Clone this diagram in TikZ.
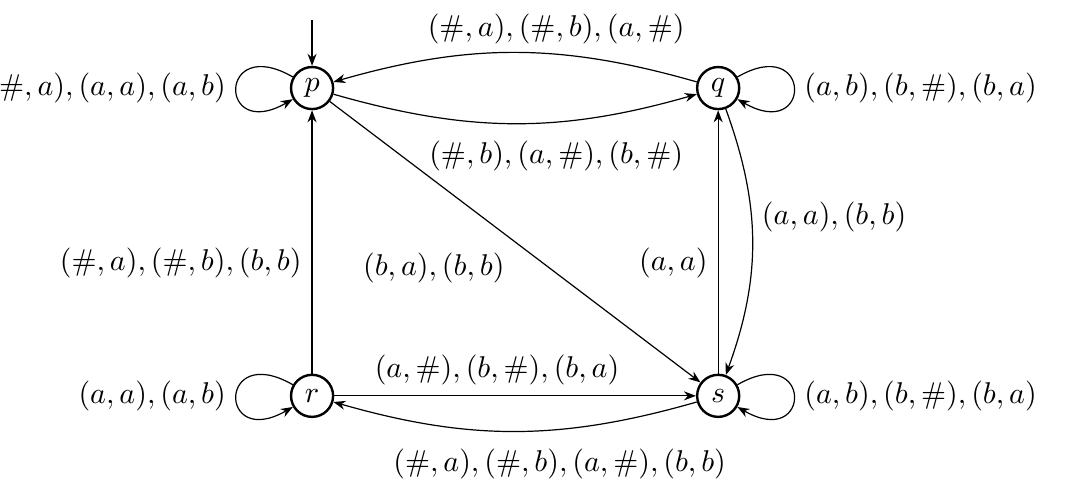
\documentclass[tikz,border=0pt]{standalone}
\usetikzlibrary{arrows.meta}

\begin{document}
\begin{tikzpicture}[>={Stealth[length=4pt,width=3pt]},
    state/.style={circle, draw, thick, minimum size=14pt, inner sep=0pt},
    selfloop/.style={looseness=10}]
  \useasboundingbox (-3.65,-1.006) rectangle (8.83,4.63);
  \node[state] (p) at (0,3.6) {$p$};
  \node[state] (q) at (4.75,3.6) {$q$};
  \node[state] (r) at (0,0) {$r$};
  \node[state] (s) at (4.75,0) {$s$};
  \coordinate (init) at (0,4.4);
  \draw[->] (init) -- (p);
  % loops
  \draw[->] (p.150) to[selfloop, out=150, in=210] node[left] {$(\#,a),(a,a),(a,b)$} (p.210);
  \draw[->] (q.30) to[selfloop, out=30, in=-30] node[right] {$(a,b),(b,\#),(b,a)$} (q.-30);
  \draw[->] (r.150) to[selfloop, out=150, in=210] node[left] {$(a,a),(a,b)$} (r.210);
  \draw[->] (s.30) to[selfloop, out=30, in=-30] node[right] {$(a,b),(b,\#),(b,a)$} (s.-30);
  % transitions
  \draw[->] (q) to[bend right=16] node[pos=.38, above] {$(\#,a),(\#,b),(a,\#)$} (p);
  \draw[->] (p) to[bend right=16] node[pos=.62, below=3pt] {$(\#,b),(a,\#),(b,\#)$} (q);
  \draw[->] (p) -- (s) node[midway, below left] {$(b,a),(b,b)$};
  \draw[->] (r) -- (p) node[pos=.42, left] {$(\#,a),(\#,b),(b,b)$};
  \draw[->] (s) -- (q) node[pos=.42, left] {$(a,a)$};
  \draw[->] (q) to[bend left=20] node[pos=.4, right] {$(a,a),(b,b)$} (s);
  \draw[->] (r) -- (s) node[pos=.45, above] {$(a,\#),(b,\#),(b,a)$};
  \draw[->] (s) to[bend left=16] node[pos=.37, below=3pt] {$(\#,a),(\#,b),(a,\#),(b,b)$} (r);
\end{tikzpicture}
\end{document}
